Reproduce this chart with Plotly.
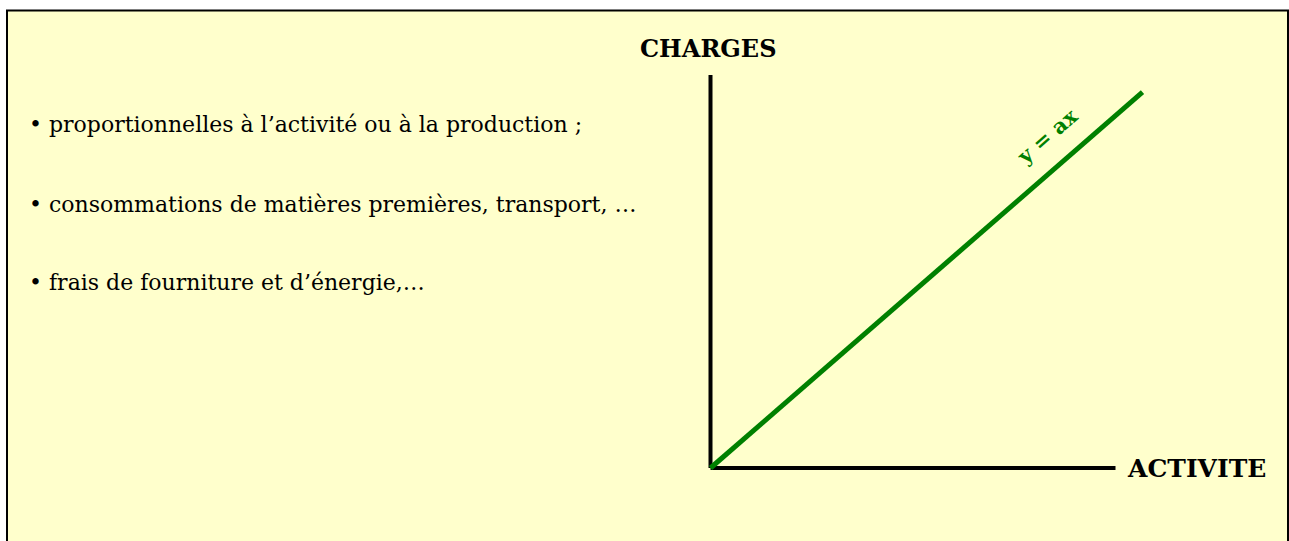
import plotly.graph_objects as go

# Données du graphique : charges variables y = a x
activite = [0, 100]
pente_a = 0.87
charges = [pente_a * v for v in activite]

# longueur des axes (unités du graphique)
axe_x = [0, 93.75]
axe_y = [0, 91]

puces = [
    "• proportionnelles à l’activité ou à la production ;",
    "• consommations de matières premières, transport, …",
    "• frais de fourniture et d’énergie,…",
]

W, H = 1289, 541
ORIG_PX, ORIG_PY = 710.5, 468
K = 4.32  # pixels par unité

fig = go.Figure()

# axe vertical (charges)
fig.add_trace(go.Scatter(
    x=[0, 0], y=axe_y, mode="lines",
    line=dict(color="black", width=4), hoverinfo="skip"
))
# axe horizontal (activité)
fig.add_trace(go.Scatter(
    x=axe_x, y=[0, 0], mode="lines",
    line=dict(color="black", width=4), hoverinfo="skip"
))
# droite y = ax
fig.add_trace(go.Scatter(
    x=activite, y=charges, mode="lines",
    line=dict(color="#008000", width=5), hoverinfo="skip"
))

serif = "DejaVu Serif, serif"

annotations = [
    dict(x=-0.6, y=axe_y[1] + 6.2, text="<b>CHARGES</b>", showarrow=False,
         xanchor="center", yanchor="middle",
         font=dict(family=serif, size=24, color="black")),
    dict(x=axe_x[1] + 2.3, y=0, text="<b>ACTIVITE</b>", showarrow=False,
         xanchor="left", yanchor="middle",
         font=dict(family=serif, size=25, color="black")),
    dict(x=77.8, y=76.8, text="<b>y = ax</b>", showarrow=False, textangle=-41,
         xanchor="center", yanchor="middle",
         font=dict(family=serif, size=21, color="#008000")),
]
for i, t in enumerate(puces):
    annotations.append(dict(
        xref="paper", yref="paper", x=27 / W, y=1 - [124, 204, 282][i] / H,
        text=t, showarrow=False, xanchor="left", yanchor="middle",
        font=dict(family=serif, size=22, color="black")))

fig.update_layout(
    width=W, height=H,
    margin=dict(l=0, r=0, t=0, b=0),
    paper_bgcolor="white", plot_bgcolor="rgba(0,0,0,0)",
    showlegend=False,
    xaxis=dict(range=[-ORIG_PX / K, (W - ORIG_PX) / K], visible=False, fixedrange=True),
    yaxis=dict(range=[-(H - ORIG_PY) / K, ORIG_PY / K], visible=False, fixedrange=True),
    shapes=[dict(
        type="rect", xref="paper", yref="paper", layer="below",
        x0=7 / W, x1=1288 / W, y0=-0.05, y1=1 - 10.5 / H,
        fillcolor="#FFFFCC", line=dict(color="black", width=2))],
    annotations=annotations,
)

fig.write_html("out.html", config={"displayModeBar": False},
               post_script="document.body.style.margin='0';document.body.style.overflow='hidden';")
